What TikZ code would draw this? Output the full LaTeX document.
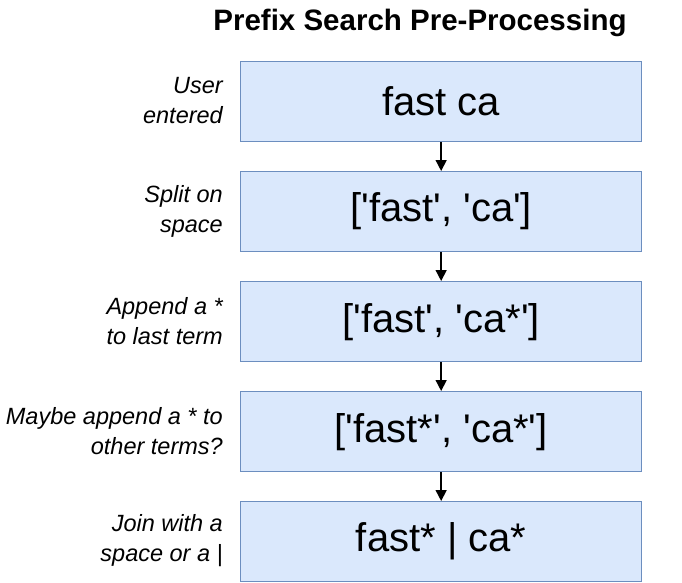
\documentclass[tikz,border=0pt]{standalone}
\usepackage{fontspec}
\setmainfont{Liberation Sans}[Ligatures=TeXOff]
\usetikzlibrary{arrows.meta}
\definecolor{boxfill}{HTML}{DAE8FC}
\definecolor{boxline}{HTML}{6C8EBF}
\begin{document}
\begin{tikzpicture}[x=1pt,y=-1pt,
  stepbox/.style={draw=boxline,fill=boxfill,line width=1.3pt,minimum width=401pt,minimum height=80pt,inner sep=0pt,anchor=north west,font=\fontsize{40}{46}\selectfont},
  lbl/.style={anchor=east,align=right,font=\fontsize{23.5}{30}\selectfont\itshape,inner sep=0pt},
  arr/.style={-{Triangle[length=11pt,width=11pt]},line width=1.5pt,black}]
\useasboundingbox (0,0) rectangle (682,582);
\node[font=\fontsize{29.5}{34}\selectfont\bfseries] (title) at (420,23) {Prefix Search Pre-Processing};
\node[stepbox] (b1) at (240,61) {fast ca};
\node[stepbox] (b2) at (240,171) {['fast', 'ca']};
\node[stepbox] (b3) at (240,281) {['fast', 'ca*']};
\node[stepbox] (b4) at (240,391) {['fast*', 'ca*']};
\node[stepbox] (b5) at (240,501) {fast* | ca*};
\node[lbl] (l1) at (223,101) {User\\entered};
\node[lbl] (l2) at (223,211) {Split on\\space};
\node[lbl] (l3) at (223,321) {Append a *\\to last term};
\node[lbl] (l4) at (223,431) {Maybe append a * to\\other terms?};
\node[lbl] (l5) at (223,541) {Join with a\\space or a |};
\draw[arr] (b1.south) -- (b2.north);
\draw[arr] (b2.south) -- (b3.north);
\draw[arr] (b3.south) -- (b4.north);
\draw[arr] (b4.south) -- (b5.north);
\end{tikzpicture}
\end{document}
